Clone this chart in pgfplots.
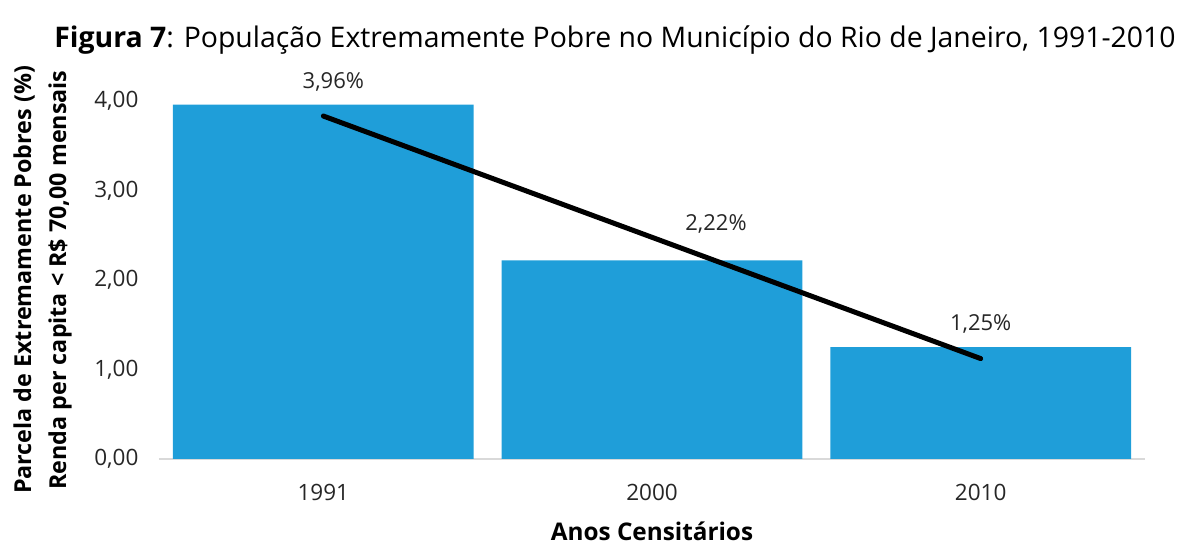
\documentclass[border=0pt]{standalone}
\usepackage{fontspec}
\setmainfont{Open Sans}
\usepackage{pgfplots}
\pgfplotsset{compat=1.18}
\definecolor{barblue}{RGB}{31,158,217}
\definecolor{basegray}{RGB}{217,217,217}
\begin{document}
\begin{tikzpicture}[x=1pt,y=1pt]
\useasboundingbox (-159,-89) rectangle (1033,459);
\begin{axis}[
  at={(0,0)}, anchor=south west,
  scale only axis, width=986pt, height=358pt,
  xmin=-0.5, xmax=2.5, ymin=0, ymax=4,
  clip=false,
  axis x line*=bottom, axis y line*=left,
  x axis line style={basegray, line width=1.5pt, -},
  y axis line style={draw=none},
  xtick={0,1,2}, xticklabels={1991,2000,2010},
  ytick={0,1,2,3,4},
  major tick length=0pt,
  tick style={draw=none},
  /pgf/number format/.cd, use comma, fixed, fixed zerofill, precision=2, assume math mode=true,
  /pgfplots/.cd,
  ticklabel style={font=\fontsize{22.5}{26}\selectfont, text=black!85},
  xticklabel style={yshift=-22pt},
  yticklabel style={xshift=-17pt},
]
\addplot[ybar, bar width=0.915, fill=barblue, draw=none,
  point meta=explicit symbolic,
  visualization depends on={\thisrow{dx} \as \dx},
  visualization depends on={\thisrow{dy} \as \dy},
  nodes near coords,
  every node near coord/.append style={font=\fontsize{22}{26}\selectfont, text=black!85, xshift=\dx, yshift=\dy}]
  table[x=x, y=y, meta=lab] {
x y lab dx dy
0 3.96 3,96\% 10 10
1 2.22 2,22\% 64 23.5
2 1.25 1,25\% 0 10
};
\addplot[black, line width=5pt, line cap=round] coordinates {(0,3.832) (2,1.122)};
\end{axis}
\node[font=\fontsize{28.4}{34}\selectfont] at (456,419) {\textbf{Figura 7}: População Extremamente Pobre no Município do Rio de Janeiro, 1991-2010};
\node[rotate=90, font=\bfseries\fontsize{23.3}{28}\selectfont] at (-135,179) {Parcela de Extremamente Pobres (\%)};
\node[rotate=90, font=\bfseries\fontsize{23.3}{28}\selectfont] at (-99,179) {Renda per capita < R\$ 70,00 mensais};
\node[anchor=base, font=\bfseries\fontsize{24.3}{29}\selectfont] at (493,-82) {Anos Censitários};
\end{tikzpicture}
\end{document}
